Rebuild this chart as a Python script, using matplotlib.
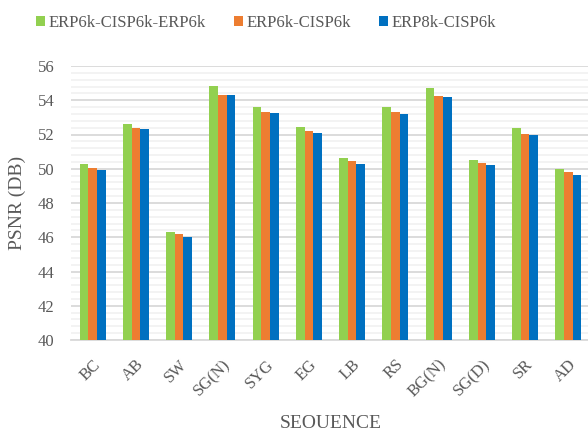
import numpy as np
import matplotlib
matplotlib.use("Agg")
import matplotlib.pyplot as plt
from matplotlib.ticker import MultipleLocator

plt.rcParams['font.family'] = ['Liberation Serif', 'DejaVu Serif']

sequences = ["BC", "AB", "SW", "SG(N)", "SYG", "EG", "LB", "RS",
             "BG(N)", "SG(D)", "SR", "AD"]
series_names = ["ERP6k-CISP6k-ERP6k", "ERP6k-CISP6k", "ERP8k-CISP6k"]
erp_cisp_erp = [50.28, 52.63, 46.29, 54.83, 53.60, 52.44, 50.63, 53.58, 54.72, 50.49, 52.36, 49.97]
erp6_cisp6 = [50.04, 52.40, 46.19, 54.33, 53.30, 52.20, 50.43, 53.29, 54.23, 50.32, 52.03, 49.81]
erp8_cisp6 = [49.93, 52.30, 46.00, 54.29, 53.24, 52.09, 50.30, 53.20, 54.17, 50.20, 51.99, 49.62]
colors = ["#92d050", "#ed7d31", "#0070c0"]

W, H = 588, 432
fig = plt.figure(figsize=(W / 100, H / 100), dpi=100)
ax = fig.add_axes([71 / W, 1 - 340 / H, (590 - 71) / W, (340 - 66) / H])

x = np.arange(len(sequences))
w = 0.2
for i, (vals, name, c) in enumerate(zip([erp_cisp_erp, erp6_cisp6, erp8_cisp6], series_names, colors)):
    ax.bar(x + (i - 1) * w, np.array(vals) - 40, w, bottom=40, color=c, label=name, zorder=3)

ax.set_ylim(40, 56)
ax.set_xlim(-0.5, 11.5)
ax.yaxis.set_major_locator(MultipleLocator(2))
ax.yaxis.set_minor_locator(MultipleLocator(0.4))
ax.grid(axis='y', which='major', color='#d9d9d9', linewidth=1.3, zorder=0)
ax.grid(axis='y', which='minor', color='#f2f2f2', linewidth=1.3, zorder=0)
ax.set_axisbelow(True)
for s in ['top', 'right', 'left']:
    ax.spines[s].set_visible(False)
ax.spines['bottom'].set_color('#d9d9d9')
ax.spines['bottom'].set_linewidth(1.3)
ax.tick_params(axis='both', which='both', length=0, colors='#595959', labelsize=12)
ax.tick_params(axis='y', pad=12)
ax.set_xticks(x)
ax.set_xticklabels(sequences, rotation=45, ha='right', rotation_mode='anchor')
ax.tick_params(axis='x', pad=12)

ax.set_ylabel("PSNR (DB)", fontsize=14, color='#595959', labelpad=8)
ax.set_xlabel("SEOUENCE", fontsize=14, color='#595959')
ax.xaxis.set_label_coords(0.5, -0.275)

fig.legend(loc='upper center', bbox_to_anchor=(266 / W, 1.0), ncol=3, frameon=False,
           fontsize=12, labelcolor='#595959', handlelength=0.55, handleheight=0.55,
           handletextpad=0.2, columnspacing=1.7)

fig.savefig("out.png", dpi=100)
